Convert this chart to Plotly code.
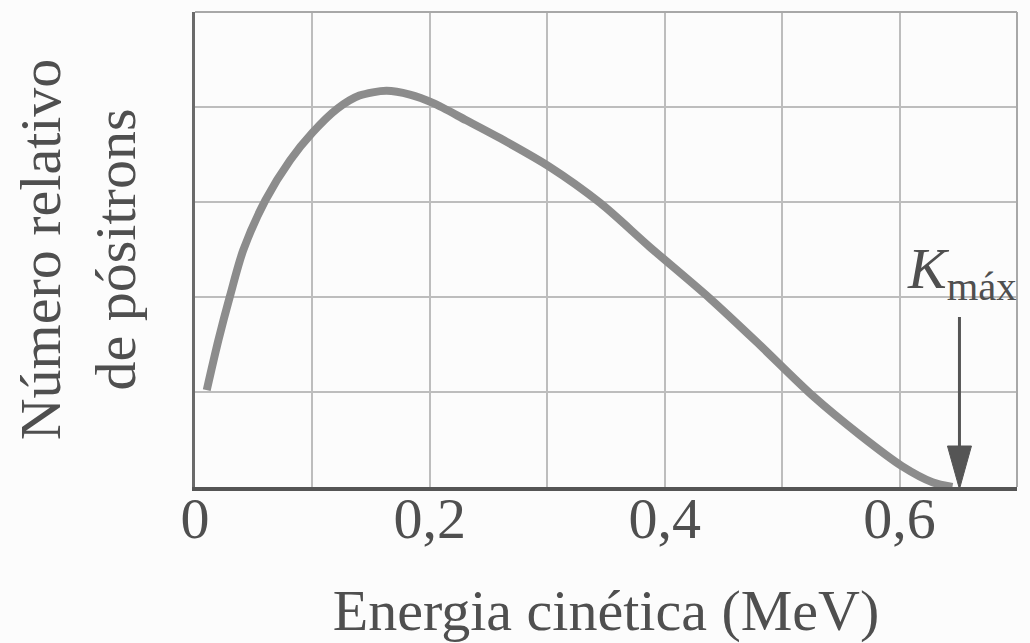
import plotly.graph_objects as go

# Data
energia = [0.010, 0.020, 0.030, 0.041, 0.060, 0.081, 0.100, 0.121, 0.140, 0.163,
           0.183, 0.203, 0.231, 0.260, 0.302, 0.345, 0.387, 0.438, 0.478, 0.526,
           0.566, 0.602, 0.628, 0.645]
numero = [1.02, 1.55, 2.02, 2.49, 3.02, 3.44, 3.73, 3.98, 4.12, 4.17,
          4.13, 4.04, 3.86, 3.67, 3.37, 2.99, 2.53, 1.99, 1.53, 0.96,
          0.55, 0.22, 0.05, 0.00]
K_MAX = 0.651

x_tickvals = [0, 0.2, 0.4, 0.6]
x_ticktext = ["0", "0,2", "0,4", "0,6"]
x_minor_vals = [0.1, 0.3, 0.5]
y_tickvals = [0, 1, 2, 3, 4]

FONT = "Liberation Serif, Times New Roman, serif"
TXT = "#4f4f4f"
GRID = "#bdbdbd"

fig = go.Figure()
fig.add_trace(go.Scatter(
    x=energia, y=numero, mode="lines",
    line=dict(color="#8c8c8c", width=8, shape="spline", smoothing=0.8),
    hoverinfo="skip", showlegend=False))

fig.update_layout(
    width=1030, height=643,
    margin=dict(l=195, r=13, t=12, b=156, autoexpand=False),
    paper_bgcolor="#fcfcfc", plot_bgcolor="#fcfcfc",
    font=dict(family=FONT, color=TXT, size=58),
    showlegend=False,
    xaxis=dict(
        range=[0, 0.7], tickvals=x_tickvals, ticktext=x_ticktext,
        showgrid=True, gridcolor=GRID, gridwidth=1.5,
        minor=dict(tickvals=x_minor_vals, showgrid=True, gridcolor=GRID, gridwidth=1.5, ticks=""),
        showline=True, linecolor="#555555", linewidth=3.5,
        ticks="", zeroline=False, automargin=False,
        tickfont=dict(family=FONT, size=58, color=TXT),
        ticklabelstandoff=-22,
        title=dict(text="Energia cinética (MeV)", standoff=40,
                   font=dict(family=FONT, size=58, color=TXT)),
    ),
    yaxis=dict(
        range=[0, 5], tickvals=y_tickvals, showticklabels=False,
        showgrid=True, gridcolor=GRID, gridwidth=1.5,
        showline=True, linecolor="#6a6a6a", linewidth=2.5,
        ticks="", zeroline=False, automargin=False,
        title=dict(text="Número relativo<br>de pósitrons", standoff=38,
                   font=dict(family=FONT, size=58, color=TXT)),
    ),
)

# top and right frame edges
fig.add_shape(type="line", xref="x domain", yref="y domain", x0=0, x1=1, y0=1, y1=1,
              line=dict(color="#a8a8a8", width=2))
fig.add_shape(type="line", xref="x domain", yref="y domain", x0=1, x1=1, y0=0, y1=1,
              line=dict(color="#a8a8a8", width=2))

# K_max arrow (shaft + head), anchored at the data point (K_MAX, 0)
fig.add_shape(type="line", xref="x", yref="y", xsizemode="pixel", ysizemode="pixel",
              xanchor=K_MAX, yanchor=0, x0=0, x1=0, y0=30, y1=170,
              line=dict(color="#555555", width=3))
fig.add_shape(type="path", xref="x", yref="y", xsizemode="pixel", ysizemode="pixel",
              xanchor=K_MAX, yanchor=0, path="M0,-2 L-12,41 L12,41 Z",
              fillcolor="#555555", line=dict(color="#555555", width=1))

fig.add_annotation(x=K_MAX, y=0, xref="x", yref="y", showarrow=False,
                   text="<i>K</i><sub>máx</sub>", xanchor="center", yanchor="bottom",
                   yshift=176, xshift=3, font=dict(family=FONT, size=58, color=TXT))

fig.write_html("out.html", config={"displayModeBar": False},
               post_script="document.body.style.margin='0';document.body.style.background='#fcfcfc';")
